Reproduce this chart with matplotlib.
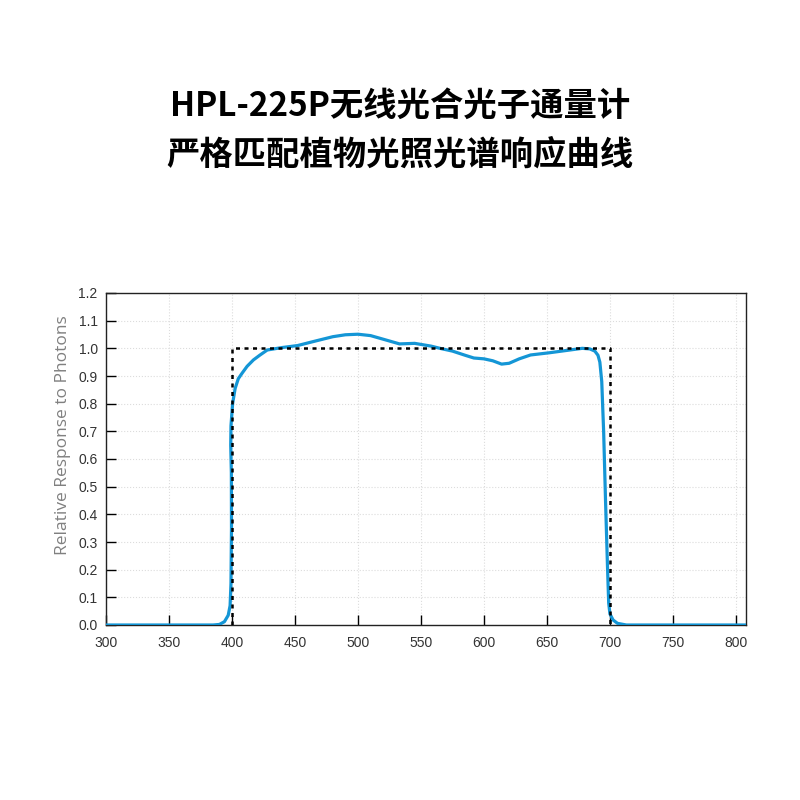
"""Spectral response of the HPL-225P photon meter against the ideal PAR box."""
import matplotlib
matplotlib.use("Agg")
import matplotlib.pyplot as plt
import numpy as np

WAVELENGTH = [300, 385, 390, 394, 397, 398.5, 399.2, 399.6, 399.5, 399.0,
              399.2, 400.5, 402.5, 405, 408, 412, 417, 422, 428, 440,
              452, 465, 480, 490, 500, 510, 520, 533, 545, 558,
              566, 575, 585, 592, 600, 607, 614, 620, 628, 637,
              652, 665, 678, 684, 688, 690.5, 692, 693.5, 695, 696.5,
              698, 699, 700, 702.5, 706, 713, 808]
RESPONSE = [0, 0, 0.002, 0.012, 0.035, 0.07, 0.15, 0.35, 0.55, 0.65,
            0.72, 0.80, 0.855, 0.89, 0.91, 0.935, 0.958, 0.975, 0.994, 1.003,
            1.01, 1.025, 1.042, 1.049, 1.051, 1.046, 1.033, 1.016, 1.018, 1.008,
            0.999, 0.99, 0.975, 0.965, 0.962, 0.955, 0.943, 0.946, 0.962, 0.976,
            0.984, 0.992, 1.0, 0.998, 0.99, 0.975, 0.95, 0.88, 0.7, 0.45,
            0.22, 0.08, 0.04, 0.018, 0.006, 0, 0]

# ideal quantum response (400-700 nm box)
IDEAL_WL = [400, 400, 700, 700]
IDEAL_RESP = [0, 1.0, 1.0, 0]

TITLE = "HPL-225P无线光合光子通量计\n严格匹配植物光照光谱响应曲线"
YLABEL = "Relative Response to Photons"

CJK = ["Noto Sans CJK SC", "DejaVu Sans"]


def main():
    fig = plt.figure(figsize=(8, 8), dpi=100)
    fig.text(0.5, 0.837, TITLE, ha="center", va="center", fontsize=24,
             fontweight="heavy", family=CJK, linespacing=1.62)

    ax = fig.add_axes([0.1325, 0.21875, 0.80, 0.415])
    ax.plot(WAVELENGTH, RESPONSE, color="#1496d6", lw=2.3, zorder=3,
            solid_joinstyle="round")
    ax.plot(IDEAL_WL, IDEAL_RESP, color="black", lw=1.8,
            linestyle=(0, (1.6, 1.8)), zorder=4)

    ax.set_xlim(300, 808)
    ax.set_ylim(0, 1.2)
    ax.set_xticks(np.arange(300, 801, 50))
    ax.set_yticks(np.round(np.arange(0, 1.21, 0.1), 1))
    ax.set_yticklabels([f"{v:.1f}" for v in np.arange(0, 1.21, 0.1)])
    ax.tick_params(direction="in", length=7, width=1, labelsize=10,
                   labelcolor="#333333")
    ax.tick_params(axis="x", pad=8)
    ax.tick_params(axis="y", pad=6)
    for lab in ax.get_xticklabels() + ax.get_yticklabels():
        lab.set_family("Liberation Sans")
    ax.grid(True, color="#dcdcdc", linestyle=":", linewidth=0.8, zorder=0)
    ax.set_axisbelow(True)
    for s in ax.spines.values():
        s.set_linewidth(1.0)
        s.set_color("#222222")
    ax.set_ylabel(YLABEL, fontsize=12.5, color="#808080", family="Open Sans")
    ax.yaxis.set_label_coords(-0.055, 0.571)

    fig.savefig("out.png", dpi=100)


if __name__ == "__main__":
    main()
